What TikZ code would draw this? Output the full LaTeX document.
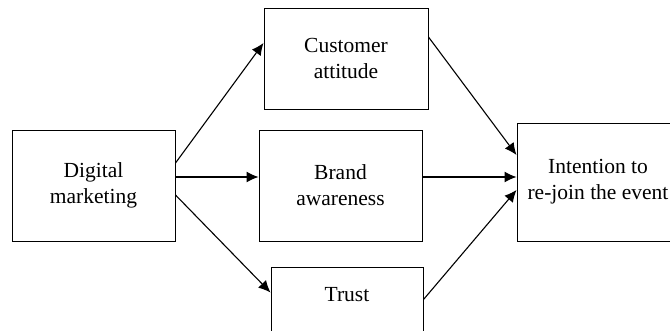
\documentclass[tikz,border=0pt]{standalone}
\usepackage{fontspec}
\setmainfont{Liberation Serif}
\usetikzlibrary{arrows.meta}

\tikzset{
    box/.style={draw,line width=1pt,inner sep=0pt,align=center,
        font=\rmfamily\fontsize{21.5}{26}\selectfont},
    link/.style={->,line width=1.1pt}
}

\begin{document}
\begin{tikzpicture}[>={Latex[length=12pt,width=11pt]},x=1pt,y=-1pt]
            \useasboundingbox (0,0) rectangle (670,330);
            \clip (0,0) rectangle (670,330);
            % boxes
            \node [box,minimum width=163pt,minimum height=111pt] (dm) at (93.5,185.5) {Digital\\marketing};
            \node [box,minimum width=164pt,minimum height=101pt] (ca) at (346,58.5) {Customer\\attitude};
            \node [box,minimum width=163pt,minimum height=111pt] (ba) at (340.5,185.5) {Brand\\awareness};
            \node [box,minimum width=152pt,minimum height=88pt] (tr) at (347,311) {Trust\\\strut};
            \node [box,minimum width=162pt,minimum height=118pt] (it) at (598,182) {Intention to\\re-join the event};
            % paths
            \draw [link] ([yshift=22.5pt]dm.east) -- ([yshift=15.5pt]ca.west);
            \draw [link] ([yshift=8.5pt]dm.east) -- ([yshift=8.5pt]ba.west);
            \draw [link] ([yshift=-9.5pt]dm.east) -- ([yshift=-26pt]tr.north west);
            \draw [link] ([yshift=21.5pt]ca.east) -- ([yshift=27pt]it.west);
            \draw [link] ([yshift=8.5pt]ba.east) -- ([yshift=5pt]it.west);
            \draw [link] ([yshift=-33pt]tr.north east) -- ([yshift=-8pt]it.west);
        \end{tikzpicture}
\end{document}
